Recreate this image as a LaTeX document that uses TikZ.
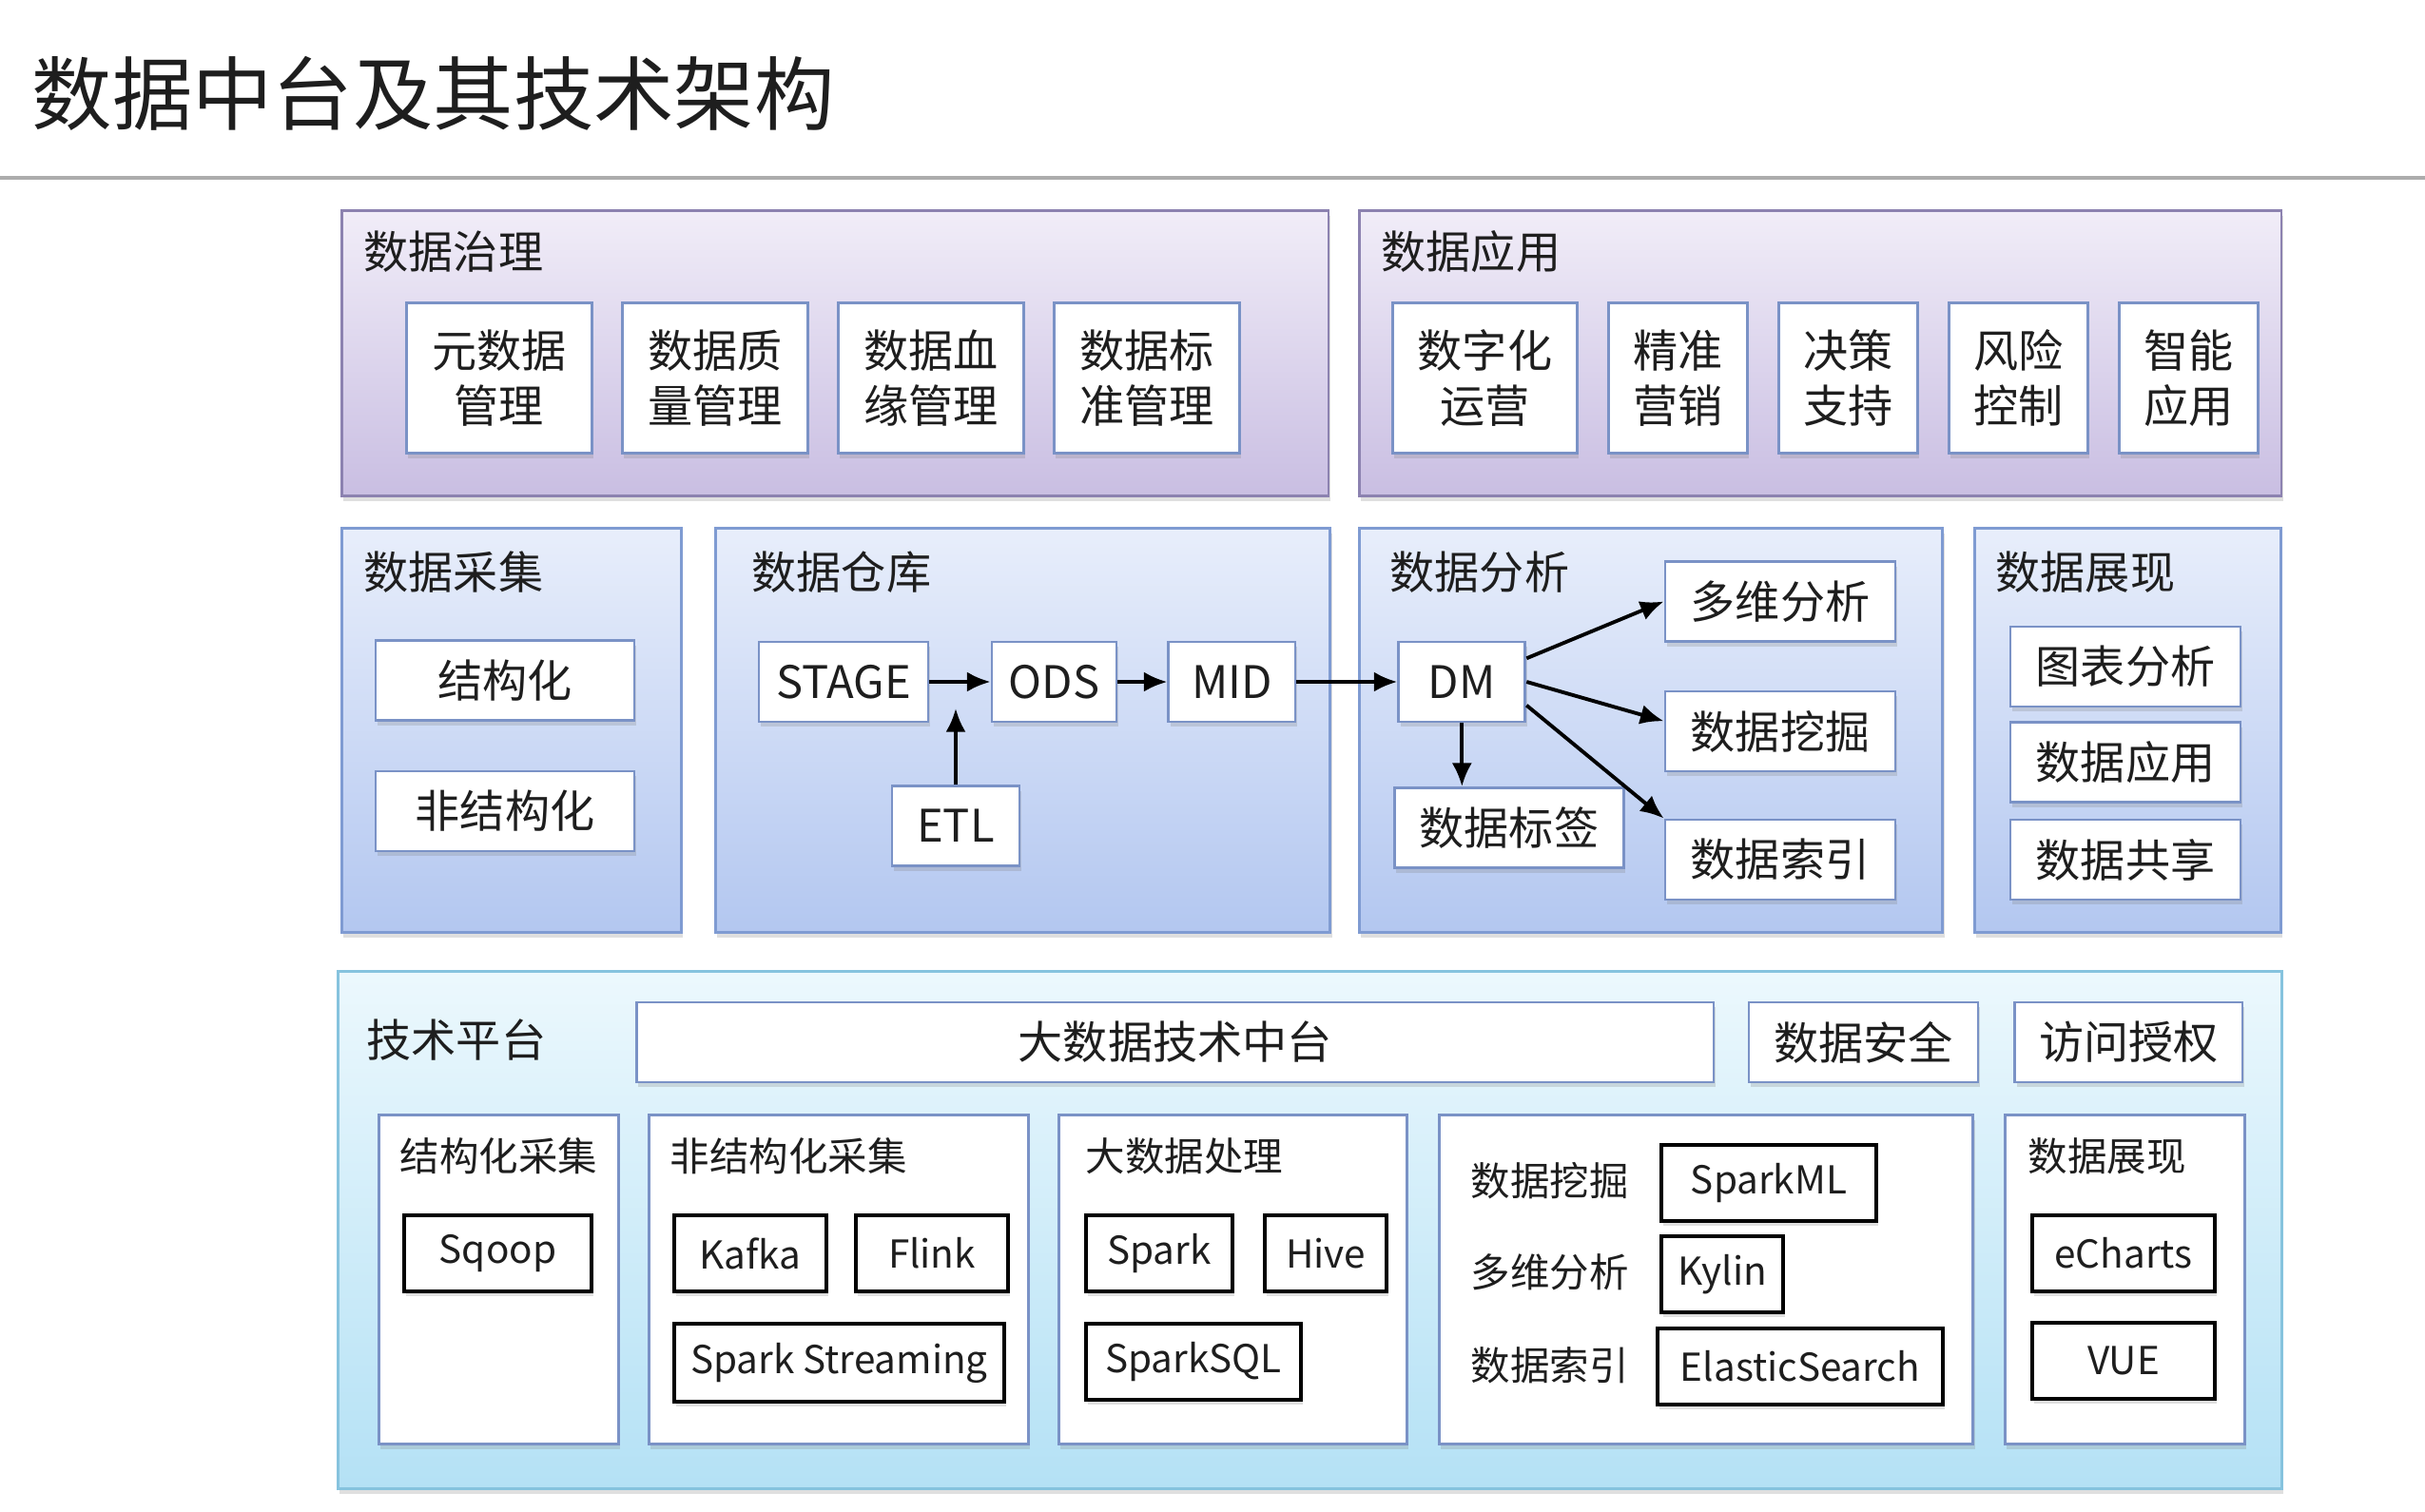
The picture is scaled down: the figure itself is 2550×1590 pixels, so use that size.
\documentclass[tikz,border=0pt]{standalone}
\usepackage{fontspec}
\setmainfont{Noto Sans CJK SC}
\usetikzlibrary{arrows.meta,positioning,shadows}

\definecolor{govTop}{HTML}{F1EDF8}
\definecolor{govBot}{HTML}{C9BEE2}
\definecolor{govEdge}{HTML}{8C82B0}
\definecolor{bluTop}{HTML}{E8EEFB}
\definecolor{bluBot}{HTML}{B3C7F0}
\definecolor{bluEdge}{HTML}{7F9BD2}
\definecolor{cynTop}{HTML}{ECF8FD}
\definecolor{cynBot}{HTML}{B4E1F5}
\definecolor{cynEdge}{HTML}{86C3DE}
\definecolor{boxEdge}{HTML}{7A92C6}
\definecolor{txt}{HTML}{1E1E1E}

\newcommand{\ftitle}{\fontsize{24pt}{28pt}\selectfont}
\newcommand{\fbig}{\fontsize{13.4pt}{16.4pt}\selectfont}
\newcommand{\fsmall}{\fontsize{11.8pt}{14pt}\selectfont}
\newcommand{\ftech}{\fontsize{11.5pt}{14pt}\selectfont}

\begin{document}
\begin{tikzpicture}[
    x=0.01cm, y=-0.01cm,
    font=\fbig, text=txt,
    shade/.style={drop shadow={shadow xshift=0.5pt, shadow yshift=-1.5pt, opacity=0.25}},
    panel/.style={shade, anchor=north west, inner sep=0pt, line width=0.8pt},
    govpanel/.style={panel, draw=govEdge, top color=govTop, bottom color=govBot, minimum height=3cm},
    blupanel/.style={panel, draw=bluEdge, top color=bluTop, bottom color=bluBot, minimum height=4.25cm},
    cynpanel/.style={panel, draw=cynEdge, top color=cynTop, bottom color=cynBot},
    subpanel/.style={panel, draw=boxEdge, fill=white, minimum height=3.46cm},
    plabel/.style={anchor=west, inner sep=0pt},
    slabel/.style={anchor=west, inner sep=0pt, font=\fsmall},
    box/.style={shade, draw=boxEdge, fill=white, line width=0.8pt, inner sep=0pt, align=center, minimum height=0.84cm},
    tallbox/.style={box, minimum height=1.58cm},
    techbox/.style={shade, draw=black, fill=white, line width=1.1pt, inner sep=0pt, minimum height=0.8cm, font=\ftech},
    line/.style={-{Latex[length=7pt,width=6pt]}, line width=1.1pt}
]
    \useasboundingbox (0,0) rectangle (2550,1590);

    % title
    \node[plabel, font=\ftitle] (title) at (33,98) {数据中台及其技术架构};
    \coordinate (ruleL) at (0,187);
    \coordinate (ruleR) at (2550,187);
    \draw[gray!65, line width=1.2pt] (ruleL) -- (ruleR);

    % row 1: governance and application
    \node[govpanel, minimum width=10.37cm] (gov) at (358,220) {};
    \node[plabel] (govlbl) at ([shift={(0.24cm,-0.45cm)}]gov.north west) {数据治理};
    \node[tallbox, minimum width=1.95cm, anchor=north west] (meta) at (426,317) {元数据\\管理};
    \node[tallbox, minimum width=1.95cm, right=0.29cm of meta] (qual) {数据质\\量管理};
    \node[tallbox, minimum width=1.95cm, right=0.29cm of qual] (lineage) {数据血\\缘管理};
    \node[tallbox, minimum width=1.95cm, right=0.29cm of lineage] (std) {数据标\\准管理};

    \node[govpanel, minimum width=9.69cm] (app) at (1428,220) {};
    \node[plabel] (applbl) at ([shift={(0.24cm,-0.45cm)}]app.north west) {数据应用};
    \node[tallbox, minimum width=1.94cm, anchor=north west] (digital) at (1463,317) {数字化\\运营};
    \node[tallbox, minimum width=1.46cm, right=0.3cm of digital] (market) {精准\\营销};
    \node[tallbox, minimum width=1.46cm, right=0.3cm of market] (decide) {决策\\支持};
    \node[tallbox, minimum width=1.46cm, right=0.3cm of decide] (risk) {风险\\控制};
    \node[tallbox, minimum width=1.46cm, right=0.3cm of risk] (smart) {智能\\应用};

    % row 2: acquisition, warehouse, analysis, display
    \node[blupanel, minimum width=3.57cm] (acq) at (358,554) {};
    \node[plabel] (acqlbl) at ([shift={(0.24cm,-0.48cm)}]acq.north west) {数据采集};
    \node[box, minimum width=2.72cm] (struct) at (531,715.5) {结构化};
    \node[box, minimum width=2.72cm] (unstruct) at (531,853) {非结构化};

    \node[blupanel, minimum width=6.46cm] (wh) at (751,554) {};
    \node[plabel] (whlbl) at ([shift={(0.39cm,-0.48cm)}]wh.north west) {数据仓库};
    \node[box, minimum width=1.78cm] (stage) at (887,717) {STAGE};
    \node[box, minimum width=1.31cm, right=0.64cm of stage] (ods) {ODS};
    \node[box, minimum width=1.33cm, right=0.52cm of ods] (mid) {MID};
    \node[box, minimum width=1.34cm] (etl) at (1005,868.5) {ETL};
    \coordinate (etltip) at (1005,745);

    \node[blupanel, minimum width=6.13cm] (ana) at (1428,554) {};
    \node[plabel] (analbl) at ([shift={(0.33cm,-0.48cm)}]ana.north west) {数据分析};
    \node[box, minimum width=1.33cm, right=1.06cm of mid] (dm) {DM};
    \node[box, minimum width=2.42cm] (multi) at (1872,632.5) {多维分析};
    \node[box, minimum width=2.42cm] (mine) at (1872,769) {数据挖掘};
    \node[box, minimum width=2.42cm] (index) at (1872,904) {数据索引};
    \node[box, minimum width=2.41cm, anchor=west] (tag) at (1465,870.5) {数据标签};

    \node[blupanel, minimum width=3.22cm] (disp) at (2075,554) {};
    \node[plabel] (displbl) at ([shift={(0.23cm,-0.48cm)}]disp.north west) {数据展现};
    \node[box, minimum width=2.42cm] (chart) at (2235,701) {图表分析};
    \node[box, minimum width=2.42cm] (dapp) at (2235,801.5) {数据应用};
    \node[box, minimum width=2.42cm] (share) at (2235,904) {数据共享};

    \draw[line] (stage) -- (ods);
    \draw[line] (ods) -- (mid);
    \draw[line] (mid) -- (dm);
    \draw[line] (etl.north) -- (etltip);
    \draw[line] (dm.20) -- (multi.west);
    \draw[line] (dm.east) -- (mine.175);
    \draw[line] (dm.-20) -- (index.north west);
    \draw[line] (dm.south) -- (dm.south |- tag.north);

    % row 3: technology platform
    \node[cynpanel, minimum width=20.43cm, minimum height=5.44cm] (tech) at (354,1020) {};
    \node[plabel] (techlbl) at (385,1094) {技术平台};
    \node[box, minimum width=11.32cm, anchor=west] (core) at (668,1096) {大数据技术中台};
    \node[box, minimum width=2.41cm, right=0.34cm of core] (sec) {数据安全};
    \node[box, minimum width=2.39cm, right=0.36cm of sec] (auth) {访问授权};

    \node[subpanel, minimum width=2.52cm] (sp1) at (397,1171) {};
    \node[slabel] (sp1lbl) at ([shift={(0.23cm,-0.45cm)}]sp1.north west) {结构化采集};
    \node[techbox, minimum width=1.97cm, anchor=north west] (sqoop) at (423,1276) {Sqoop};

    \node[subpanel, minimum width=3.99cm] (sp2) at (681,1171) {};
    \node[slabel] (sp2lbl) at ([shift={(0.23cm,-0.45cm)}]sp2.north west) {非结构化采集};
    \node[techbox, minimum width=1.6cm, anchor=north west] (kafka) at (707,1276) {Kafka};
    \node[techbox, minimum width=1.6cm, right=0.27cm of kafka] (flink) {Flink};
    \node[techbox, minimum width=3.47cm, minimum height=0.82cm, anchor=north west] (sstream) at (707,1390) {Spark Streaming};

    \node[subpanel, minimum width=3.66cm] (sp3) at (1112,1171) {};
    \node[slabel] (sp3lbl) at ([shift={(0.29cm,-0.45cm)}]sp3.north west) {大数据处理};
    \node[techbox, minimum width=1.54cm, anchor=north west] (spark) at (1140,1276) {Spark};
    \node[techbox, minimum width=1.28cm, right=0.3cm of spark] (hive) {Hive};
    \node[techbox, minimum width=2.26cm, anchor=north west] (sparksql) at (1140,1390) {SparkSQL};

    \node[subpanel, minimum width=5.61cm] (sp4) at (1512,1171) {};
    \node[slabel] (minelbl) at (1546,1242) {数据挖掘};
    \node[slabel] (multilbl) at (1546,1338) {多维分析};
    \node[slabel] (indexlbl) at (1546,1436) {数据索引};
    \node[techbox, minimum width=2.26cm, anchor=north west] (sparkml) at (1745,1202) {SparkML};
    \node[techbox, minimum width=1.28cm, anchor=north west] (kylin) at (1745,1298) {Kylin};
    \node[techbox, minimum width=3cm, anchor=north west] (elastic) at (1741,1395) {ElasticSearch};

    \node[subpanel, minimum width=2.52cm] (sp5) at (2107,1171) {};
    \node[slabel] (sp5lbl) at ([shift={(0.25cm,-0.45cm)}]sp5.north west) {数据展现};
    \node[techbox, minimum width=1.92cm, anchor=north west] (echarts) at (2135,1276) {eCharts};
    \node[techbox, minimum width=1.92cm, anchor=north west] (vue) at (2135,1389) {VUE};
\end{tikzpicture}
\end{document}
